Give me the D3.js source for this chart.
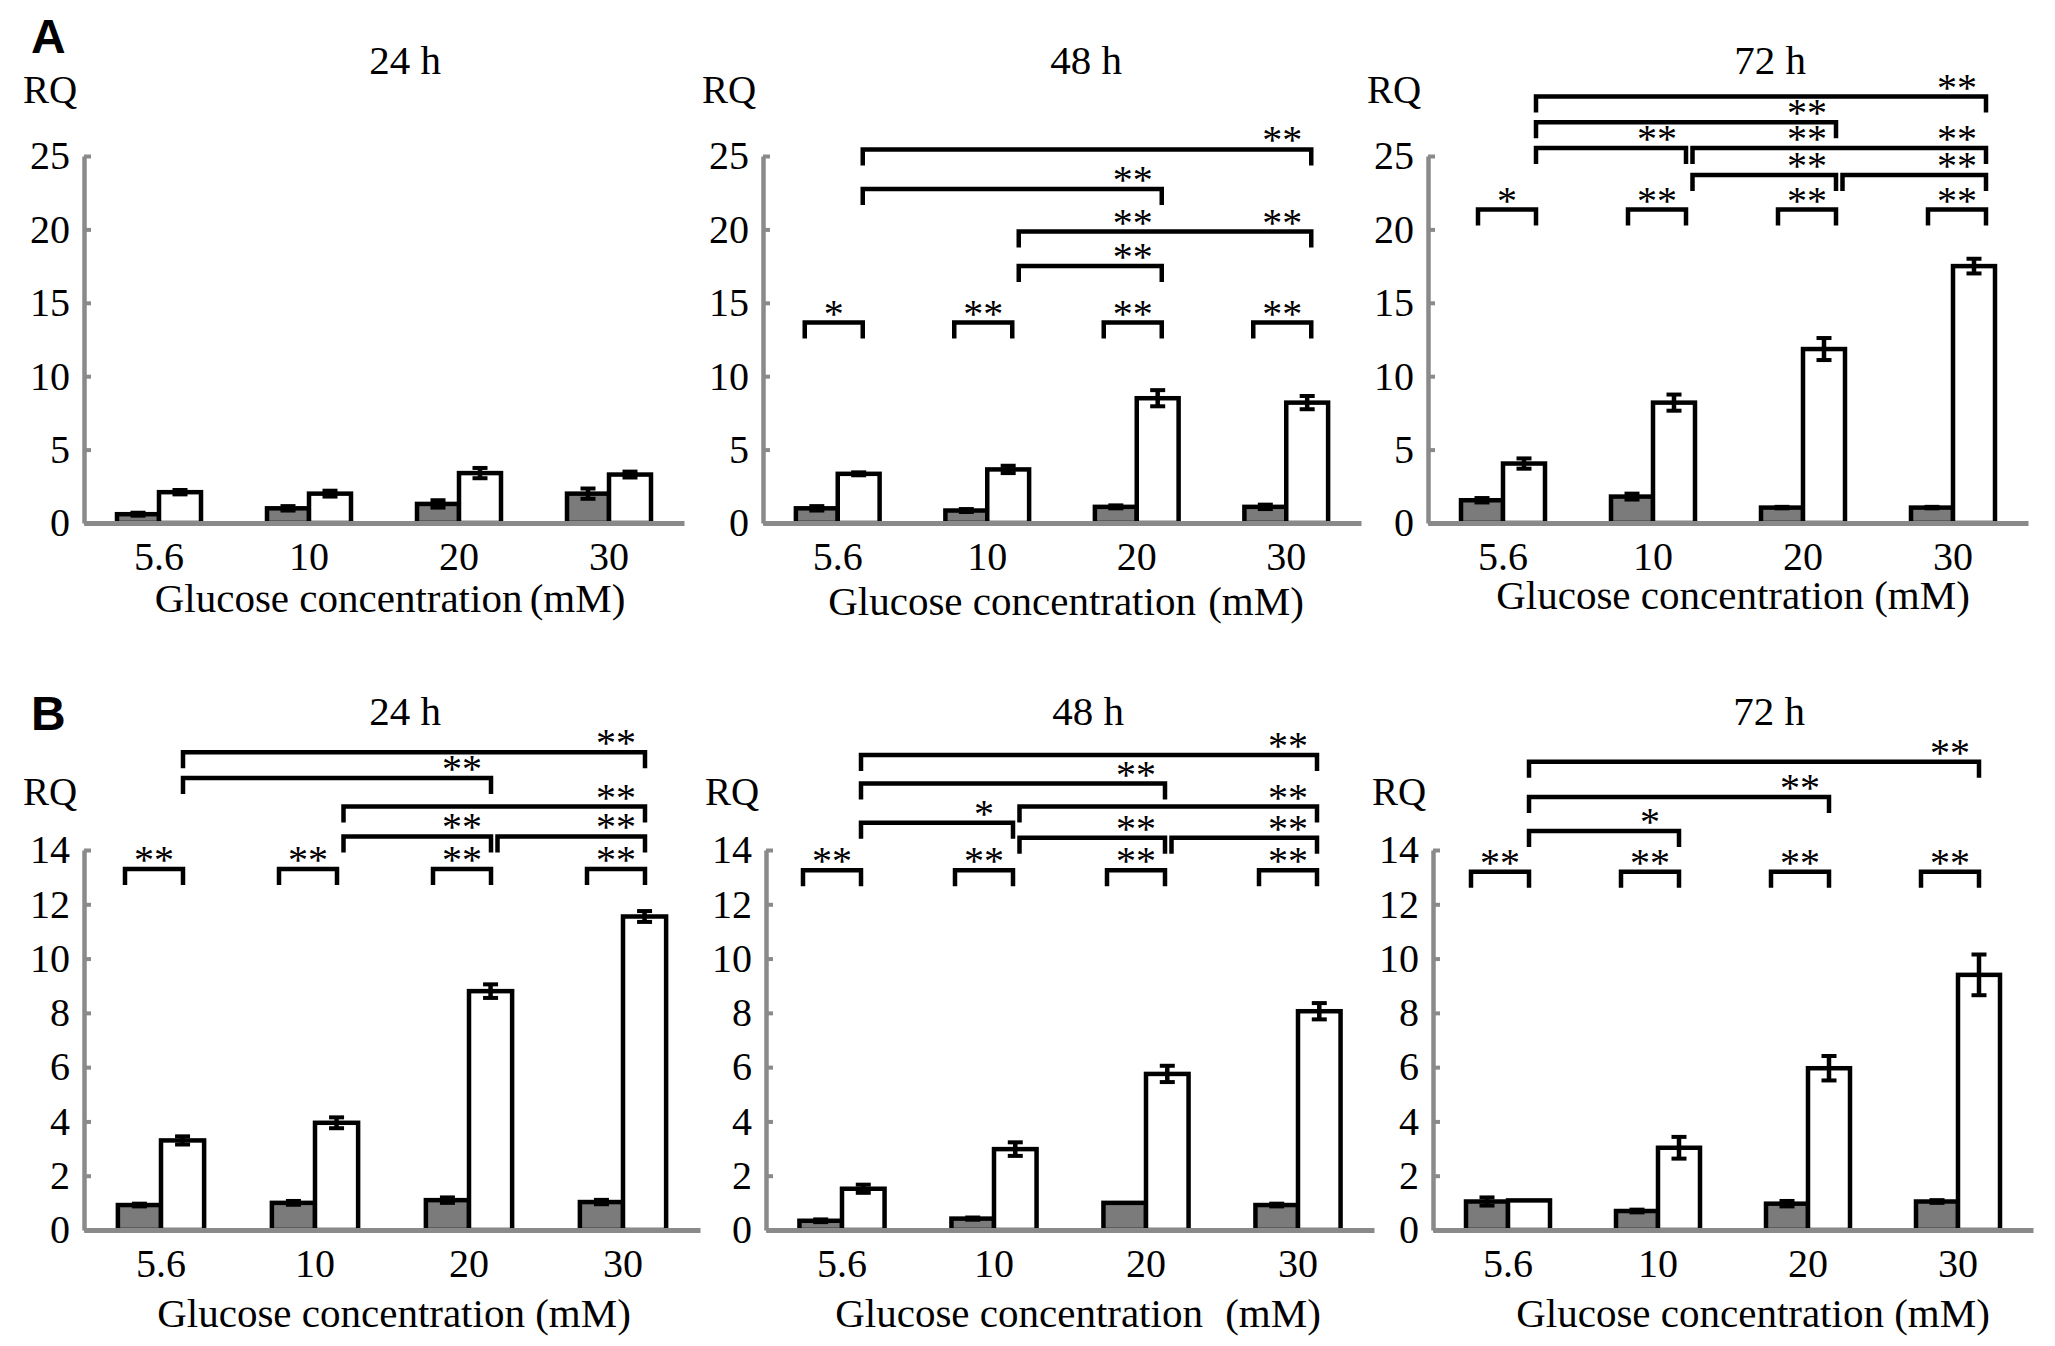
<!DOCTYPE html>
<html>
<head>
<meta charset="utf-8">
<script src="https://cdn.jsdelivr.net/npm/d3@7"></script>
<style>
  body { margin: 0; background: #fff; }
  svg text { font-family: "Liberation Serif", "Times New Roman", serif; fill: #000; }
</style>
</head>
<body>
<script>
// glucose concentrations (mM) shared by every panel
const concentrations = ["5.6", "10", "20", "30"]
const series = ["grey", "white"]
const yTicksA = [0, 5, 10, 15, 20, 25]
const yTicksB = [0, 2, 4, 6, 8, 10, 12, 14]

// RQ values (grey = control bar, white = treated bar)
const a24Grey = [0.6, 1.0, 1.3, 2.0]
const a24GreyErr = [0.1, 0.15, 0.25, 0.35]
const a24White = [2.1, 2.0, 3.4, 3.3]
const a24WhiteErr = [0.15, 0.2, 0.35, 0.2]

const a48Grey = [1.0, 0.85, 1.1, 1.1]
const a48GreyErr = [0.15, 0.1, 0.1, 0.15]
const a48White = [3.35, 3.65, 8.5, 8.2]
const a48WhiteErr = [0.1, 0.25, 0.55, 0.45]

const a72Grey = [1.55, 1.8, 1.05, 1.05]
const a72GreyErr = [0.15, 0.2, 0.05, 0.05]
const a72White = [4.05, 8.2, 11.85, 17.5]
const a72WhiteErr = [0.35, 0.55, 0.75, 0.5]

const b24Grey = [0.92, 1.0, 1.1, 1.03]
const b24GreyErr = [0.05, 0.07, 0.1, 0.08]
const b24White = [3.3, 3.95, 8.8, 11.55]
const b24WhiteErr = [0.15, 0.2, 0.25, 0.2]

const b48Grey = [0.34, 0.42, 1.0, 0.92]
const b48GreyErr = [0.05, 0.04, 0, 0.05]
const b48White = [1.52, 2.98, 5.75, 8.06]
const b48WhiteErr = [0.15, 0.25, 0.3, 0.3]

const b72Grey = [1.05, 0.7, 0.97, 1.05]
const b72GreyErr = [0.15, 0.05, 0.1, 0.05]
const b72White = [1.09, 3.03, 5.96, 9.4]
const b72WhiteErr = [0, 0.4, 0.45, 0.75]

// significance marks: within-group stars and between-group brackets (level in RQ)
const a24Within = []
const a24WithinLevel = 0
const a24Cross = []

const a48Within = ["*", "**", "**", "**"]
const a48WithinLevel = 13.65
const a48Cross = [
  { from: 1, to: 2, level: 17.5, text: "**", at: [2] },
  { from: 1, to: 3, level: 19.85, text: "**", at: [2, 3] },
  { from: 0, to: 2, level: 22.75, text: "**", at: [2] },
  { from: 0, to: 3, level: 25.45, text: "**", at: [3] }
]

const a72Within = ["*", "**", "**", "**"]
const a72WithinLevel = 21.35
const a72Cross = [
  { from: 1, to: 2, level: 23.7, text: "**", at: [2] },
  { from: 2, to: 3, level: 23.7, text: "**", at: [3] },
  { from: 0, to: 1, level: 25.55, text: "**", at: [1] },
  { from: 1, to: 3, level: 25.55, text: "**", at: [2, 3] },
  { from: 0, to: 2, level: 27.3, text: "**", at: [2] },
  { from: 0, to: 3, level: 29.05, text: "**", at: [3] }
]

const b24Within = ["**", "**", "**", "**"]
const b24WithinLevel = 13.3
const b24Cross = [
  { from: 1, to: 2, level: 14.5, text: "**", at: [2] },
  { from: 2, to: 3, level: 14.5, text: "**", at: [3] },
  { from: 1, to: 3, level: 15.6, text: "**", at: [3] },
  { from: 0, to: 2, level: 16.65, text: "**", at: [2] },
  { from: 0, to: 3, level: 17.6, text: "**", at: [3] }
]

const b48Within = ["**", "**", "**", "**"]
const b48WithinLevel = 13.25
const b48Cross = [
  { from: 1, to: 2, level: 14.45, text: "**", at: [2] },
  { from: 2, to: 3, level: 14.45, text: "**", at: [3] },
  { from: 0, to: 1, level: 15.0, text: "*", at: [1] },
  { from: 1, to: 3, level: 15.6, text: "**", at: [3] },
  { from: 0, to: 2, level: 16.45, text: "**", at: [2] },
  { from: 0, to: 3, level: 17.5, text: "**", at: [3] }
]

const b72Within = ["**", "**", "**", "**"]
const b72WithinLevel = 13.2
const b72Cross = [
  { from: 0, to: 1, level: 14.7, text: "*", at: [1] },
  { from: 0, to: 2, level: 15.95, text: "**", at: [2] },
  { from: 0, to: 3, level: 17.25, text: "**", at: [3] }
]

// layout of the two rows and six panels
const rows = {
  A: { domain: [0, 25], ticks: yTicksA, y0: 523, y1: 156, titleY: 74, rqY: 103, letterY: 53 },
  B: { domain: [0, 14], ticks: yTicksB, y0: 1230, y1: 850, titleY: 725, rqY: 805, letterY: 730 }
}

const panels = [
  { row: "A", title: "24 h", x0: 84, w: 600, shift: 0, titleX: 405, xTitleX: 390, xTitleY: 612, unitGap: -3,
    grey: a24Grey, greyErr: a24GreyErr, white: a24White, whiteErr: a24WhiteErr,
    within: a24Within, withinLevel: a24WithinLevel, cross: a24Cross },
  { row: "A", title: "48 h", x0: 763, w: 598, shift: 3, titleX: 1086, xTitleX: 1066, xTitleY: 615, unitGap: 2,
    grey: a48Grey, greyErr: a48GreyErr, white: a48White, whiteErr: a48WhiteErr,
    within: a48Within, withinLevel: a48WithinLevel, cross: a48Cross },
  { row: "A", title: "72 h", x0: 1428, w: 600, shift: 11, titleX: 1770, xTitleX: 1733, xTitleY: 609, unitGap: 0,
    grey: a72Grey, greyErr: a72GreyErr, white: a72White, whiteErr: a72WhiteErr,
    within: a72Within, withinLevel: a72WithinLevel, cross: a72Cross },
  { row: "B", title: "24 h", x0: 84, w: 616, shift: 0, titleX: 405, xTitleX: 394, xTitleY: 1327, unitGap: 0,
    grey: b24Grey, greyErr: b24GreyErr, white: b24White, whiteErr: b24WhiteErr,
    within: b24Within, withinLevel: b24WithinLevel, cross: b24Cross },
  { row: "B", title: "48 h", x0: 766, w: 608, shift: -3, titleX: 1088, xTitleX: 1078, xTitleY: 1327, unitGap: 12,
    grey: b48Grey, greyErr: b48GreyErr, white: b48White, whiteErr: b48WhiteErr,
    within: b48Within, withinLevel: b48WithinLevel, cross: b48Cross },
  { row: "B", title: "72 h", x0: 1433, w: 600, shift: -1, titleX: 1769, xTitleX: 1753, xTitleY: 1327, unitGap: 0,
    grey: b72Grey, greyErr: b72GreyErr, white: b72White, whiteErr: b72WhiteErr,
    within: b72Within, withinLevel: b72WithinLevel, cross: b72Cross }
]

const axisGrey = "#8a8a8a"
const barGrey = "#7b7b7b"
const legLen = 16

const svg = d3.select("body").append("svg")
  .attr("width", 2055)
  .attr("height", 1346)
  .style("display", "block")

panels.forEach(p => drawPanel(p, rows[p.row]))

Object.keys(rows).forEach(k => {
  svg.append("text")
    .attr("x", 31)
    .attr("y", rows[k].letterY)
    .style("font-family", "'Liberation Sans', Arial, sans-serif")
    .style("font-weight", "bold")
    .style("font-size", "48px")
    .text(k)
})

function drawPanel(p, row) {
  const g = svg.append("g")
  const x = d3.scaleBand().domain(concentrations).range([p.x0, p.x0 + p.w])
  const y = d3.scaleLinear().domain(row.domain).range([row.y0, row.y1])
  const bw = x.bandwidth() * 0.28
  const s = d3.scaleBand().domain(series).range([-bw, bw])
  const cx = i => x(concentrations[i]) + x.bandwidth() / 2

  const bars = []
  concentrations.forEach((c, i) => {
    bars.push({ c: c, k: "grey", v: p.grey[i], e: p.greyErr[i] })
    bars.push({ c: c, k: "white", v: p.white[i], e: p.whiteErr[i] })
  })
  const barX = d => x(d.c) + x.bandwidth() / 2 + s(d.k)

  g.selectAll("rect.bar")
    .data(bars).enter()
    .append("rect")
      .attr("class", "bar")
      .attr("x", barX)
      .attr("width", s.bandwidth())
      .attr("y", d => y(d.v))
      .attr("height", d => y(0) - y(d.v))
      .attr("fill", d => d.k === "grey" ? barGrey : "#fff")
      .attr("stroke", "#000")
      .attr("stroke-width", 4.5)

  // error bars
  const errs = bars.filter(d => d.e > 0)
  const ex = d => barX(d) + s.bandwidth() / 2
  g.selectAll("line.err")
    .data(errs).enter()
    .append("line")
      .attr("x1", ex).attr("x2", ex)
      .attr("y1", d => y(d.v - d.e))
      .attr("y2", d => y(d.v + d.e))
      .attr("stroke", "#000")
      .attr("stroke-width", 4.5)
  errs.forEach(d => {
    [d.v - d.e, d.v + d.e].forEach(val => {
      g.append("line")
        .attr("x1", ex(d) - 7.5).attr("x2", ex(d) + 7.5)
        .attr("y1", y(val)).attr("y2", y(val))
        .attr("stroke", "#000")
        .attr("stroke-width", 4)
    })
  })

  // significance brackets
  const legL = i => cx(i) - 36 + p.shift
  const legR = i => cx(i) + 22 + p.shift
  const starX = i => (legL(i) + legR(i)) / 2

  function bracket(x1, x2, level) {
    const yy = y(level)
    g.append("path")
      .attr("d", `M${x1},${yy + legLen}V${yy}H${x2}V${yy + legLen}`)
      .attr("fill", "none")
      .attr("stroke", "#000")
      .attr("stroke-width", 4.5)
  }
  function stars(xx, level, txt) {
    g.append("text")
      .attr("x", xx)
      .attr("y", y(level) + 4)
      .attr("text-anchor", "middle")
      .style("font-size", "40px")
      .text(txt)
  }

  p.within.forEach((txt, i) => {
    bracket(legL(i), legR(i), p.withinLevel)
    stars(starX(i), p.withinLevel, txt)
  })
  p.cross.forEach(b => {
    bracket(legR(b.from) + (b.from > 0 ? 6.5 : 0), legR(b.to), b.level)
    b.at.forEach(i => stars(starX(i), b.level, b.text))
  })

  // axes
  const yAxis = d3.axisLeft(y).tickValues(row.ticks).tickSizeInner(-7).tickSizeOuter(0).tickPadding(14)
  const ya = g.append("g")
    .attr("transform", `translate(${p.x0},0)`)
    .call(yAxis)
  ya.attr("font-family", null).attr("font-size", null)
  ya.select(".domain").attr("stroke", axisGrey).attr("stroke-width", 4.5)
  ya.selectAll(".tick line").attr("stroke", axisGrey).attr("stroke-width", 4)
  ya.selectAll(".tick text").style("font-size", "40px").attr("fill", "#000")

  const xAxis = d3.axisBottom(x).tickSize(0).tickPadding(19)
  const xa = g.append("g")
    .attr("transform", `translate(0,${row.y0})`)
    .call(xAxis)
  xa.attr("font-family", null).attr("font-size", null)
  xa.select(".domain").attr("stroke", axisGrey).attr("stroke-width", 5)
  xa.selectAll(".tick text").style("font-size", "40px").attr("fill", "#000")

  // labels
  g.append("text")
    .attr("x", p.titleX).attr("y", row.titleY)
    .attr("text-anchor", "middle")
    .style("font-size", "41px")
    .text(p.title)
  g.append("text")
    .attr("x", p.x0 - 61).attr("y", row.rqY)
    .style("font-size", "39px")
    .text("RQ")
  const xt = g.append("text")
    .attr("x", p.xTitleX).attr("y", p.xTitleY)
    .attr("text-anchor", "middle")
    .style("font-size", "41px")
  xt.append("tspan").text("Glucose concentration ")
  xt.append("tspan").attr("dx", p.unitGap).text("(mM)")
}
</script>
</body>
</html>
